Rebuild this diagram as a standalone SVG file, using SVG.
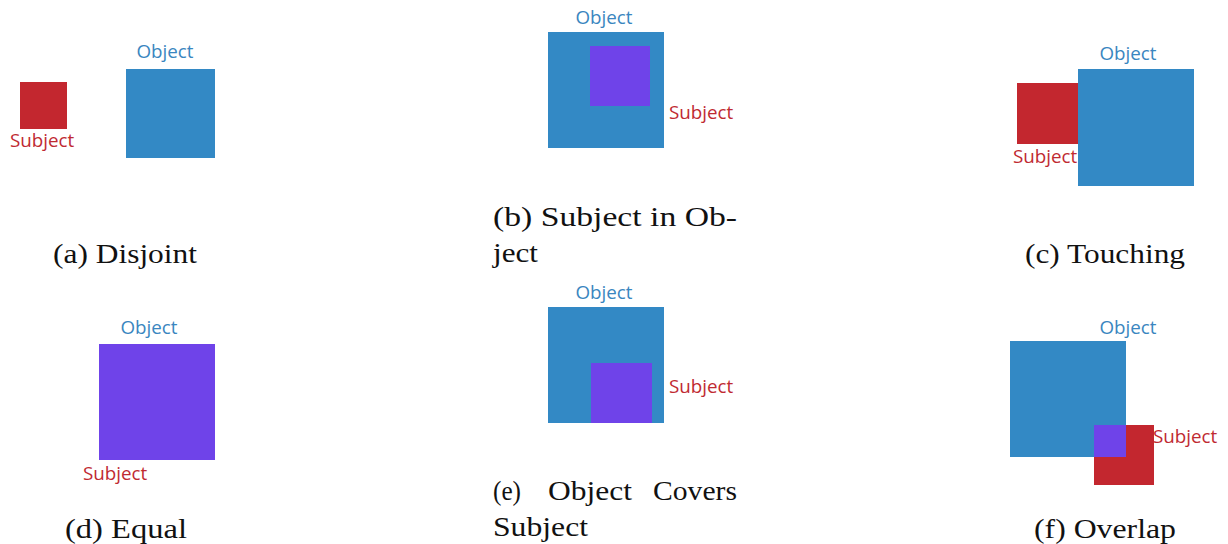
<svg xmlns="http://www.w3.org/2000/svg" width="1228" height="544" viewBox="0 0 1228 544">
  <style>
    .obj { fill: #3389c5; }
    .sub { fill: #c3272f; }
    .both { fill: #6f43e9; }
    .lbl { font-family: "Open Sans", "Noto Sans", sans-serif; font-size: 18.8px; }
    .lbl-obj { fill: #3a86c0; }
    .lbl-sub { fill: #bf2a32; }
    .cap { font-family: "Liberation Serif", "DejaVu Serif", serif; font-size: 27px; fill: #111; }
  </style>

  <!-- (a) Disjoint -->
  <g id="disjoint">
    <rect class="sub" x="20" y="82" width="47" height="47"/>
    <rect class="obj" x="126" y="69" width="89" height="89"/>
    <text class="lbl lbl-obj" x="165" y="58" text-anchor="middle">Object</text>
    <text class="lbl lbl-sub" x="10" y="147">Subject</text>
    <text class="cap" x="53" y="263" textLength="144" lengthAdjust="spacingAndGlyphs">(a) Disjoint</text>
  </g>

  <!-- (b) Subject in Object -->
  <g id="subject-in-object">
    <rect class="obj" x="548" y="32" width="116" height="116"/>
    <rect class="both" x="590" y="46" width="60" height="60"/>
    <text class="lbl lbl-obj" x="604" y="24" text-anchor="middle">Object</text>
    <text class="lbl lbl-sub" x="669" y="119">Subject</text>
    <text class="cap" x="493" y="226" textLength="244" lengthAdjust="spacingAndGlyphs">(b) Subject in Ob-</text>
    <text class="cap" x="493" y="262" textLength="45" lengthAdjust="spacingAndGlyphs">ject</text>
  </g>

  <!-- (c) Touching -->
  <g id="touching">
    <rect class="sub" x="1017" y="83" width="61" height="61"/>
    <rect class="obj" x="1078" y="69" width="116" height="117"/>
    <text class="lbl lbl-obj" x="1128" y="60" text-anchor="middle">Object</text>
    <text class="lbl lbl-sub" x="1013" y="163">Subject</text>
    <text class="cap" x="1025" y="263" textLength="160" lengthAdjust="spacingAndGlyphs">(c) Touching</text>
  </g>

  <!-- (d) Equal -->
  <g id="equal">
    <rect class="both" x="99" y="344" width="116" height="116"/>
    <text class="lbl lbl-obj" x="149" y="334" text-anchor="middle">Object</text>
    <text class="lbl lbl-sub" x="83" y="480">Subject</text>
    <text class="cap" x="65" y="538" textLength="122" lengthAdjust="spacingAndGlyphs">(d) Equal</text>
  </g>

  <!-- (e) Object Covers Subject (justified first line) -->
  <g id="object-covers-subject">
    <rect class="obj" x="548" y="307" width="116" height="116"/>
    <rect class="both" x="591" y="363" width="61" height="60"/>
    <text class="lbl lbl-obj" x="604" y="299" text-anchor="middle">Object</text>
    <text class="lbl lbl-sub" x="669" y="393">Subject</text>
    <text class="cap" x="493" y="500" textLength="28" lengthAdjust="spacingAndGlyphs">(e)</text>
    <text class="cap" x="548" y="500" textLength="84" lengthAdjust="spacingAndGlyphs">Object</text>
    <text class="cap" x="653" y="500" textLength="84" lengthAdjust="spacingAndGlyphs">Covers</text>
    <text class="cap" x="493" y="536" textLength="95" lengthAdjust="spacingAndGlyphs">Subject</text>
  </g>

  <!-- (f) Overlap -->
  <g id="overlap">
    <rect class="obj" x="1010" y="341" width="116" height="116"/>
    <rect class="sub" x="1094" y="425" width="60" height="60"/>
    <rect class="both" x="1094" y="425" width="32" height="32"/>
    <text class="lbl lbl-obj" x="1128" y="334" text-anchor="middle">Object</text>
    <text class="lbl lbl-sub" x="1153" y="443">Subject</text>
    <text class="cap" x="1034" y="538" textLength="142" lengthAdjust="spacingAndGlyphs">(f) Overlap</text>
  </g>
</svg>
